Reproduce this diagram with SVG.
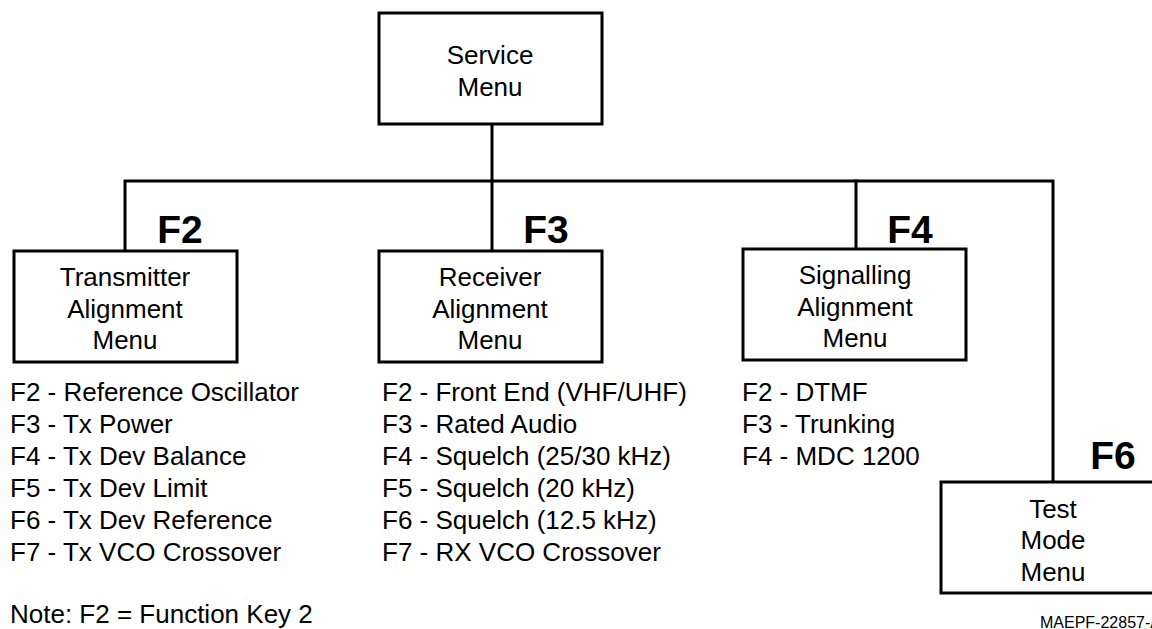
<svg xmlns="http://www.w3.org/2000/svg" width="1152" height="629" viewBox="0 0 1152 629">
<style>
.box{fill:#fff;stroke:#000;stroke-width:3}
.ln{fill:none;stroke:#000;stroke-width:3;stroke-linecap:square}
text{font-family:"Liberation Sans",Arial,sans-serif;fill:#000}
.t{font-size:26px;text-anchor:middle}
.l{font-size:26px}
.k{font-size:39px;font-weight:bold;text-anchor:middle}
.s{font-size:16px}
</style>
<rect width="1152" height="629" fill="#fff"/>
<g id="connectors">
<line class="ln" x1="492" y1="124" x2="492" y2="251"/>
<polyline class="ln" points="125,251 125,181 1053,181 1053,482"/>
<line class="ln" x1="856" y1="181" x2="856" y2="249"/>
</g>
<g id="service">
<rect class="box" x="379" y="13" width="223" height="111"/>
<text class="t" x="490" y="64">Service</text>
<text class="t" x="490" y="96">Menu</text>
</g>
<g id="transmitter">
<text class="k" x="180" y="243">F2</text>
<rect class="box" x="14" y="251" width="223" height="111"/>
<text class="t" x="125" y="286">Transmitter</text>
<text class="t" x="125" y="318">Alignment</text>
<text class="t" x="125" y="349">Menu</text>
</g>
<g id="receiver">
<text class="k" x="546" y="243">F3</text>
<rect class="box" x="379" y="251" width="223" height="111"/>
<text class="t" x="490" y="286">Receiver</text>
<text class="t" x="490" y="318">Alignment</text>
<text class="t" x="490" y="349">Menu</text>
</g>
<g id="signalling">
<text class="k" x="910" y="243">F4</text>
<rect class="box" x="743" y="249" width="223" height="111"/>
<text class="t" x="855" y="284">Signalling</text>
<text class="t" x="855" y="316">Alignment</text>
<text class="t" x="855" y="347">Menu</text>
</g>
<g id="testmode">
<text class="k" x="1113" y="469">F6</text>
<rect class="box" x="941" y="482" width="224" height="111"/>
<text class="t" x="1053" y="518">Test</text>
<text class="t" x="1053" y="549">Mode</text>
<text class="t" x="1053" y="581">Menu</text>
</g>
<g id="tx-list">
<text class="l" x="10" y="401">F2 - Reference Oscillator</text>
<text class="l" x="10" y="433">F3 - Tx Power</text>
<text class="l" x="10" y="465">F4 - Tx Dev Balance</text>
<text class="l" x="10" y="497">F5 - Tx Dev Limit</text>
<text class="l" x="10" y="529">F6 - Tx Dev Reference</text>
<text class="l" x="10" y="561">F7 - Tx VCO Crossover</text>
</g>
<g id="rx-list">
<text class="l" x="382" y="401">F2 - Front End (VHF/UHF)</text>
<text class="l" x="382" y="433">F3 - Rated Audio</text>
<text class="l" x="382" y="465">F4 - Squelch (25/30 kHz)</text>
<text class="l" x="382" y="497">F5 - Squelch (20 kHz)</text>
<text class="l" x="382" y="529">F6 - Squelch (12.5 kHz)</text>
<text class="l" x="382" y="561">F7 - RX VCO Crossover</text>
</g>
<g id="sig-list">
<text class="l" x="742" y="401">F2 - DTMF</text>
<text class="l" x="742" y="433">F3 - Trunking</text>
<text class="l" x="742" y="465">F4 - MDC 1200</text>
</g>
<g id="notes">
<text class="l" x="10" y="623">Note: F2 = Function Key 2</text>
<text class="s" x="1040" y="628">MAEPF-22857-A</text>
</g>
</svg>
